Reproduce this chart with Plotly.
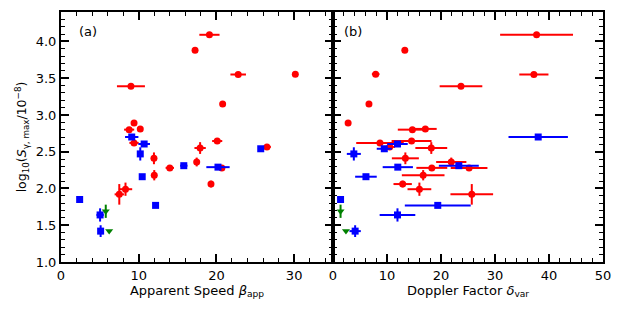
import plotly.graph_objects as go

# ---- data ----
red_logS      = [4.09, 3.88, 3.55, 3.555, 3.39, 3.15, 2.89, 2.80, 2.81, 2.62, 2.645, 2.55, 2.565, 2.41, 2.36, 2.28, 2.28, 2.18, 2.06, 1.99, 1.92]
red_logS_err  = [0, 0, 0, 0, 0, 0, 0, 0, 0.04, 0, 0, 0.08, 0, 0.08, 0.06, 0, 0, 0.07, 0.045, 0.09, 0.14]
red_beta      = [19.1, 17.25, 22.8, 30.15, 9.0, 20.8, 9.4, 8.77, 10.2, 9.4, 20.1, 17.9, 26.5, 11.96, 17.46, 14.0, 20.7, 12.0, 19.3, 8.3, 7.5]
red_beta_err  = [1.3, 0, 1.0, 0, 1.8, 0, 0, 0.65, 0, 0.6, 0.65, 0.73, 0.5, 0, 0, 0.54, 0, 0, 0, 0.86, 0.6]
red_delta     = [37.7, 13.3, 37.2, 7.9, 23.7, 6.66, 2.8, 14.7, 17.1, 8.7, 14.55, 18.2, 10.5, 13.4, 21.9, 18.3, 25.2, 16.7, 12.9, 16.0, 25.7]
red_delta_err = [6.75, 0, 2.7, 0.7, 3.95, 0, 0, 2.7, 2.1, 4.4, 3.7, 2.95, 1.0, 2.5, 2.8, 2.86, 3.4, 3.95, 1.7, 2.2, 3.95]

blue_logS      = [1.85, 2.70, 2.605, 2.47, 2.16, 2.31, 2.29, 2.54, 1.77, 1.64, 1.42]
blue_logS_err  = [0, 0, 0, 0.09, 0, 0, 0, 0, 0, 0.09, 0.08]
blue_beta      = [2.4, 9.1, 10.7, 10.2, 10.45, 15.8, 20.2, 25.7, 12.17, 5.03, 5.1]
blue_beta_err  = [0, 0.86, 0.75, 0, 0, 0.47, 1.5, 0, 0, 0.47, 0]
blue_delta     = [1.4, 38.0, 11.94, 3.86, 6.1, 23.3, 12.0, 9.5, 19.4, 11.94, 4.1]
blue_delta_err = [0, 5.5, 1.9, 1.3, 2.0, 3.7, 2.8, 1.4, 6.1, 3.3, 1.05]

green_logS     = [1.69, 1.42]
green_logS_err = [0.09, 0]
green_beta     = [5.76, 6.2]
green_delta    = [1.4, 2.4]

RED, BLUE, GREEN = "#ff0000", "#0000ff", "#008000"
FONT = "DejaVu Sans"

fig = go.Figure()

def add(x, xerr, y, yerr, color, symbol, xa, ya):
    fig.add_trace(go.Scatter(
        x=x, y=y, mode="markers", xaxis=xa, yaxis=ya, showlegend=False,
        marker=dict(color=color, symbol=symbol, size=7, line=dict(width=0)),
        error_x=dict(type="data", array=xerr, visible=True, color=color, thickness=2, width=0) if xerr is not None else None,
        error_y=dict(type="data", array=yerr, visible=True, color=color, thickness=2, width=0),
    ))

# panel (a)
add(red_beta, red_beta_err, red_logS, red_logS_err, RED, "circle", "x", "y")
add(blue_beta, blue_beta_err, blue_logS, blue_logS_err, BLUE, "square", "x", "y")
add(green_beta, None, green_logS, green_logS_err, GREEN, "triangle-down", "x", "y")
# panel (b)
add(red_delta, red_delta_err, red_logS, red_logS_err, RED, "circle", "x2", "y2")
add(blue_delta, blue_delta_err, blue_logS, blue_logS_err, BLUE, "square", "x2", "y2")
add(green_delta, None, green_logS, green_logS_err, GREEN, "triangle-down", "x2", "y2")

axis_common = dict(showline=True, linecolor="black", linewidth=2, mirror="allticks",
                   ticks="inside", ticklen=8, tickwidth=1.8, tickcolor="black",
                   showgrid=False, zeroline=False, automargin=False,
                   tickfont=dict(family=FONT, size=13, color="black"))
minor_common = dict(ticks="inside", ticklen=4, tickwidth=1.3, tickcolor="black")

split = 272 / 542
fig.update_layout(
    width=615, height=304,
    margin=dict(l=53, r=20, t=4, b=50),
    paper_bgcolor="white", plot_bgcolor="white",
    font=dict(family=FONT, color="black"),
    xaxis=dict(domain=[0, split], range=[0, 35], dtick=10, tick0=0,
               minor=dict(dtick=2, **minor_common),
               title=dict(text="Apparent Speed <i>β</i><sub>app</sub>", font=dict(size=13), standoff=4),
               anchor="y", **axis_common),
    yaxis=dict(domain=[0, 1], range=[1.0, 4.4], dtick=0.5, tick0=1.0, tickformat=".1f",
               minor=dict(dtick=0.1, **minor_common),
               title=dict(text="log<sub>10</sub>(<i>S</i><sub>γ, max</sub>/10<sup>−8</sup>)", font=dict(size=12.5), standoff=6),
               anchor="x", **axis_common),
    xaxis2=dict(domain=[split, 1], range=[0, 50], dtick=10, tick0=0,
                minor=dict(dtick=2, **minor_common),
                title=dict(text="Doppler Factor <i>δ</i><sub>var</sub>", font=dict(size=13), standoff=4),
                anchor="y2", **axis_common),
    yaxis2=dict(domain=[0, 1], range=[1.0, 4.4], dtick=0.5, tick0=1.0, showticklabels=False,
                minor=dict(dtick=0.1, **minor_common),
                anchor="x2", **axis_common),
    annotations=[
        dict(text="(a)", xref="x domain", yref="y domain", x=0.057, y=0.922, showarrow=False,
             xanchor="left", yanchor="middle", font=dict(size=13, family=FONT)),
        dict(text="(b)", xref="x2 domain", yref="y2 domain", x=0.033, y=0.922, showarrow=False,
             xanchor="left", yanchor="middle", font=dict(size=13, family=FONT)),
    ],
)

fig.write_html("out.html")
